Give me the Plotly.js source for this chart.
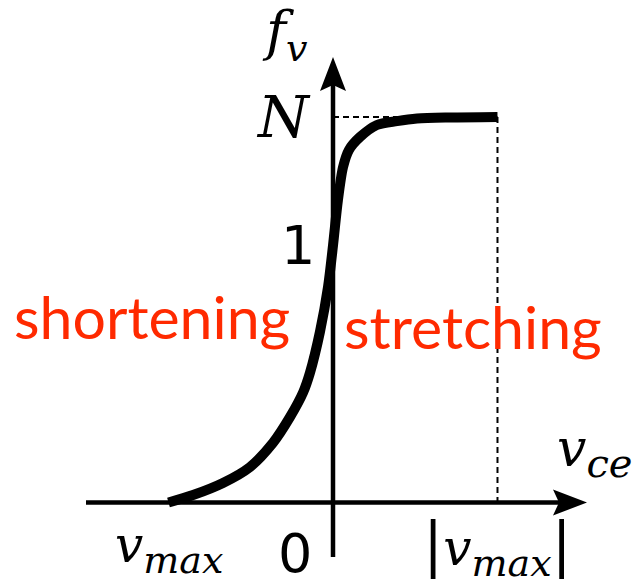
<!DOCTYPE html>
<html>
<head>
<meta charset="utf-8">
<script src="https://cdn.plot.ly/plotly-3.0.1.min.js"></script>
<style>
  html, body { margin: 0; padding: 0; background: #ffffff; }
  #chart { width: 640px; height: 587px; }
</style>
</head>
<body>
<div id="chart"></div>
<script>
// Force–velocity relation of the contractile element:
// normalized force f_v against velocity v_ce (velocity in units of v_max).
const velocity = [-1.0, -0.851, -0.669, -0.505, -0.365, -0.261, -0.182, -0.140, -0.079, -0.030,
                  0.0, 0.030, 0.061, 0.097, 0.164, 0.267, 0.389, 0.511, 0.711, 1.0];
const force    = [0.0, 0.029, 0.076, 0.138, 0.232, 0.333, 0.428, 0.505, 0.665, 0.840,
                  1.0, 1.177, 1.305, 1.372, 1.422, 1.469, 1.484, 1.494, 1.498, 1.5];
const vMax = 1.0;   // |v_max| marker on the stretching side
const fMax = 1.5;   // N, eccentric force plateau
const isoForce = 1.0;

// drawing frame
const W = 640, H = 587;
const xRange = [-2.0243, 1.8663];
const yRange = [-0.3288, 1.9553];
const pxX = (xRange[1] - xRange[0]) / W;   // data units per pixel, horizontal
const pxY = (yRange[1] - yRange[0]) / H;   // data units per pixel, vertical
const px2x = p => xRange[0] + p * pxX;
const px2y = p => yRange[1] - p * pxY;

// axis extents (data units)
const xAxisStart = px2x(86), xAxisTip = px2x(587);
const yAxisStart = px2y(557), yAxisTip = px2y(57);
const headLen = 34, headHalf = 13, headNotch = 28, axisW = 4.5;

const shapes = [
  // horizontal axis with arrowhead
  {type: 'line', x0: xAxisStart, y0: 0, x1: xAxisTip - headNotch * pxX, y1: 0,
   line: {color: '#000', width: axisW}, layer: 'below'},
  {type: 'path', layer: 'below', fillcolor: '#000', line: {width: 0},
   path: `M${xAxisTip},0 L${xAxisTip - headLen * pxX},${headHalf * pxY} L${xAxisTip - headNotch * pxX},0 L${xAxisTip - headLen * pxX},${-headHalf * pxY} Z`},
  // vertical axis with arrowhead
  {type: 'line', x0: 0, y0: yAxisStart, x1: 0, y1: yAxisTip - headNotch * pxY,
   line: {color: '#000', width: axisW}, layer: 'below'},
  {type: 'path', layer: 'below', fillcolor: '#000', line: {width: 0},
   path: `M0,${yAxisTip} L${-headHalf * pxX},${yAxisTip - headLen * pxY} L0,${yAxisTip - headNotch * pxY} L${headHalf * pxX},${yAxisTip - headLen * pxY} Z`},
  // plateau guide lines
  {type: 'line', x0: 0, y0: fMax, x1: vMax, y1: fMax, layer: 'below',
   line: {color: '#000', width: 2, dash: '6px,4px'}},
  {type: 'line', x0: vMax, y0: fMax, x1: vMax, y1: 0, layer: 'below',
   line: {color: '#000', width: 2, dash: '6px,4px'}}
];

const MATH = 'DejaVu Serif, serif';
const SANS = 'DejaVu Sans, sans-serif';
const WORD = 'Lato, Open Sans, sans-serif';
const RED = '#ff2a00';

function label(text, x, y, size, family, color, yanchor) {
  return {text: text, x: x, y: y, xref: 'x', yref: 'y', showarrow: false,
          xanchor: 'center', yanchor: yanchor || 'middle',
          font: {family: family, size: size, color: color || '#000'}};
}
const sub = (t, s) => `<sub><span style="font-size:${s}px"><i>${t}</i></span></sub>`;
const bar = '<span style="font-size:60px">|</span>';

// zero tick label sits on the bottom edge of the figure
const zeroLabel = Object.assign(label('0', px2x(295), 0, 54, SANS, '#000', 'bottom'), {yref: 'paper'});

const annotations = [
  label('<i>f</i>' + sub('v', 38), px2x(285), px2y(35), 54, MATH),
  label('<i>N</i>', px2x(283), fMax, 58, MATH),
  label('1', px2x(298), isoForce, 54, SANS),
  zeroLabel,
  label('<i>v</i>' + sub('max', 38), -vMax, px2y(549), 50, MATH),
  label(bar + '<i>v</i>' + sub('max', 38) + bar, vMax, px2y(547), 50, MATH),
  label('<i>v</i>' + sub('ce', 40), px2x(594), px2y(452), 52, MATH),
  label('shortening', px2x(152), px2y(316), 59, WORD, RED),
  label('stretching', px2x(473), px2y(326), 59, WORD, RED)
];

const trace = {
  x: velocity, y: force, type: 'scatter', mode: 'lines',
  line: {color: '#000', width: 10, shape: 'spline', smoothing: 0.8},
  hoverinfo: 'skip'
};

const layout = {
  width: W, height: H,
  margin: {l: 0, r: 0, t: 0, b: 0, pad: 0},
  paper_bgcolor: '#ffffff', plot_bgcolor: '#ffffff',
  showlegend: false,
  xaxis: {range: xRange, visible: false, fixedrange: true},
  yaxis: {range: yRange, visible: false, fixedrange: true},
  shapes: shapes,
  annotations: annotations
};

Plotly.newPlot('chart', [trace], layout, {displayModeBar: false, staticPlot: true});
</script>
</body>
</html>
